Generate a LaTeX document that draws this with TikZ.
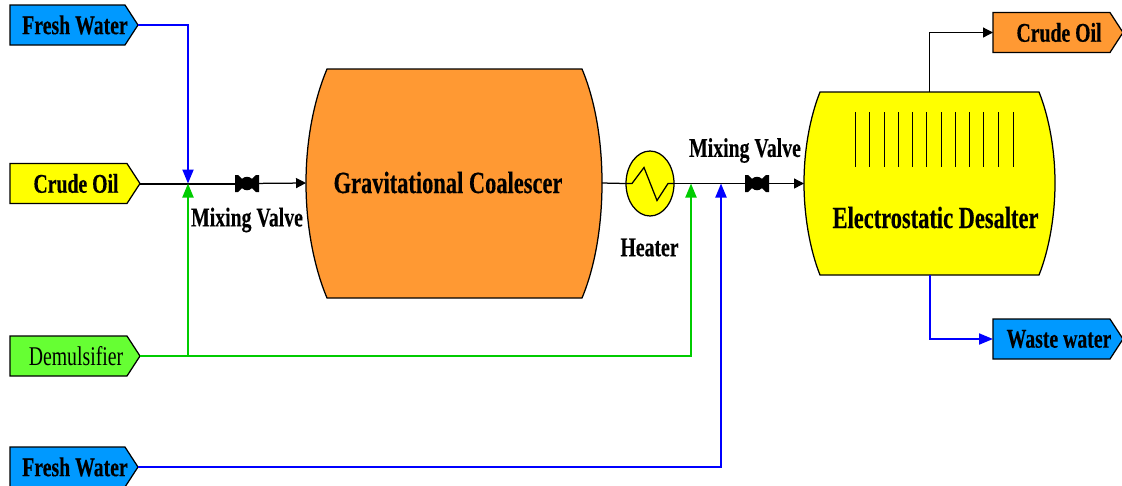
\documentclass[tikz,border=0pt]{standalone}
\usepackage{fontspec}
\setmainfont{Liberation Serif}[FakeStretch=0.73, BoldFeatures={FakeBold=0.3}]
\usetikzlibrary{arrows.meta,shapes.geometric,shapes.symbols}
\definecolor{waterblue}{RGB}{0,153,255}
\definecolor{oilorange}{RGB}{255,153,51}
\definecolor{demgreen}{RGB}{102,255,51}
\definecolor{linegreen}{RGB}{0,204,0}
\definecolor{desalteryellow}{RGB}{255,255,0}
\tikzset{
    tag/.style={draw, signal, signal to=east, signal pointer angle=114, inner sep=0pt, outer sep=0pt,
        minimum width=2.6cm, minimum height=0.8cm, anchor=west, line width=0.025cm,
        font=\fontsize{15.4}{15.4}\selectfont\bfseries,
        execute at begin node={\hspace*{0.3cm}\hbox to 0pt\bgroup\hss}, execute at end node={\hss\egroup}},
    vesselbox/.style={inner sep=0pt, outer sep=0pt, minimum width=#1},
    vesseltext/.style={font=\fontsize{17.5}{17.5}\selectfont\bfseries, inner sep=0pt},
    labeltext/.style={font=\fontsize{15.4}{15.4}\selectfont\bfseries, inner sep=0pt},
    valve/.style={circle, fill=black, inner sep=0pt, outer sep=0pt, minimum size=0.27cm},
    thinline/.style={draw=black, line width=0.025cm},
    oilline/.style={thinline, -{Triangle[length=0.2cm,width=0.2cm]}},
    waterline/.style={draw=blue, line width=0.04cm, -{Triangle[length=0.28cm,width=0.22cm]}},
    demline/.style={draw=linegreen, line width=0.04cm, -{Triangle[length=0.28cm,width=0.22cm]}}
}
\begin{document}
\begin{tikzpicture}[x=0.02cm, y=-0.02cm]
    \useasboundingbox (0,0) rectangle (1122,485);

    % vessels
    \draw[fill=oilorange, line width=0.025cm] (327,69) -- (582,69) .. controls (595,100) and (602,140) .. (602,183)
        .. controls (602,226) and (595,267) .. (582,298) -- (327,298)
        .. controls (314,267) and (306,226) .. (306,183) .. controls (306,140) and (314,100) .. (327,69) -- cycle;
    \draw[fill=desalteryellow, line width=0.025cm] (820,92) -- (1039,92) .. controls (1049,117) and (1055,150) .. (1055,183)
        .. controls (1055,216) and (1049,250) .. (1039,275) -- (820,275)
        .. controls (810,250) and (804,216) .. (804,183) .. controls (804,150) and (810,117) .. (820,92) -- cycle;
    \node[vesselbox=5.92cm, minimum height=4.58cm] (coalescer) at (454,183) {};
    \node[vesselbox=5.02cm, minimum height=3.66cm] (desalter) at (929.5,183.5) {};
    \node[vesseltext] (coalescertext) at (448,182.5) {Gravitational Coalescer};
    \node[vesseltext] (desaltertext) at (935.5,217.5) {Electrostatic Desalter};
    \foreach \x in {855,869.5,884,898,912,926.5,941,955,969,983,998,1013}
        \draw[line width=0.02cm] (\x,112) -- (\x,167);

    % inlets and outlets
    \node[tag, fill=waterblue, minimum width=2.56cm] (waterin) at (10,25) {Fresh Water};
    \node[tag, fill=desalteryellow] (crudein) at (10,183.5) {Crude Oil};
    \node[tag, fill=demgreen, font=\fontsize{15.4}{15.4}\selectfont] (demulsifier) at (10,356) {Demulsifier};
    \node[tag, fill=waterblue, minimum width=2.56cm] (waterinb) at (10,467) {Fresh Water};
    \node[tag, fill=oilorange] (crudeout) at (993,32.5) {Crude Oil};
    \node[tag, fill=waterblue] (wasteout) at (993,339) {Waste water};

    % heater and valves
    \node[ellipse, draw, fill=desalteryellow, inner sep=0pt, outer sep=0pt, line width=0.025cm, minimum width=0.96cm, minimum height=1.3cm] (heater) at (650,183.5) {};
    \foreach \name/\x in {valvea/247,valveb/757} {
        \node[valve] (\name) at (\x,183.5) {};
        \fill (\x-12,175) -- (\x-9,175) -- (\x,183.5) -- (\x+9,175) -- (\x+12,175) -- (\x+12,192) -- (\x+9,192)
            -- (\x,183.5) -- (\x-9,192) -- (\x-12,192) -- cycle;
    }
    \coordinate (mixa) at (188,183.5);
    \coordinate (demjoin) at (188,356);
    \coordinate (mixb) at (691,183.5);
    \coordinate (mixc) at (721,183.5);

    % connectors
    \draw[thinline, line width=0.04cm] (crudein.east) -- (valvea);
    \draw[oilline] (valvea) -- (coalescer.west);
    \draw[thinline] (coalescer.east) -- (heater.west);
    \draw[thinline] (heater.west) -- ++(6,0) -- ++(12,-16) -- ++(13,33) -- ++(11,-17) -- (heater.east);
    \draw[thinline] (heater.east) -- (valveb);
    \draw[oilline] (valveb) -- (desalter.west);
    \draw[waterline] (waterin.east) -| (mixa);
    \draw[demline] (demjoin) -- (mixa);
    \draw[demline] (demulsifier.east) -| (mixb);
    \draw[waterline] (waterinb.east) -| (mixc);
    \draw[oilline] (desalter.north) |- (crudeout.west);
    \draw[waterline] (desalter.south) |- (wasteout.west);

    % labels
    \node[labeltext] (mixatext) at (247,220) {Mixing Valve};
    \node[labeltext] (mixbtext) at (745,150.5) {Mixing Valve};
    \node[labeltext] (heatertext) at (649.5,247.5) {Heater};
\end{tikzpicture}
\end{document}
